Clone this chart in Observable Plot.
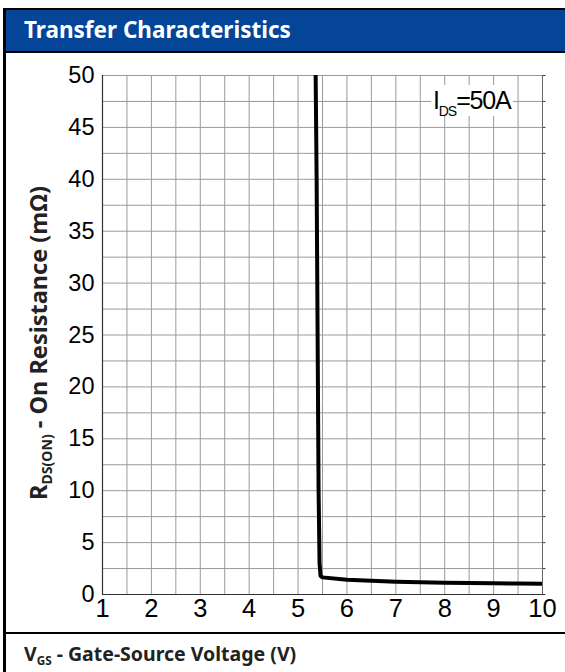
<!DOCTYPE html>
<html>
<head>
<meta charset="utf-8">
<script src="https://cdn.jsdelivr.net/npm/d3@7"></script>
<script src="https://cdn.jsdelivr.net/npm/@observablehq/plot@0.6"></script>
<style>
  html, body { margin: 0; padding: 0; background: #fff; }
  #wrap { position: relative; width: 565px; height: 672px; overflow: hidden; font-family: "Noto Sans", "Open Sans", sans-serif; }
  #lborder { position: absolute; left: 3px; top: 8px; width: 3px; height: 664px; background: #000; }
  #title { position: absolute; left: 3px; top: 8px; width: 562px; height: 41px; background: #044598;
           border-top: 2px solid #000; border-bottom: 2px solid #000; color: #fff; font-weight: 700; font-size: 22.5px;
           line-height: 40px; box-sizing: content-box; }
  #title span { position: absolute; left: 21px; top: 0; white-space: nowrap; }
  #plot { position: absolute; left: 0; top: 53px; }
  #sep { position: absolute; left: 3px; top: 632px; width: 562px; height: 2px; background: #000; }
  #xlabel { position: absolute; left: 24px; top: 640px; font-weight: 700; font-size: 19.5px; color: #222; white-space: nowrap; }
  #ylabel { position: absolute; left: 38px; top: 343px; transform: translate(-50%, -50%) rotate(-90deg);
            font-weight: 700; font-size: 23.5px; color: #222; white-space: nowrap; }
  sub { font-size: 0.6em; vertical-align: -0.35em; line-height: 0; }
  #note { position: absolute; left: 431px; top: 85px; background: #fff; font-family: "Liberation Sans", Arial, sans-serif;
          font-size: 25px; color: #000; padding: 0 2px; letter-spacing: -1.2px; line-height: 31px; }
  #note sub { font-size: 14px; vertical-align: -0.5em; letter-spacing: -1px; }
</style>
</head>
<body>
<div id="wrap">
  <div id="title"><span>Transfer Characteristics</span></div>
  <div id="plot"></div>
  <div id="lborder"></div>
  <div id="sep"></div>
  <div id="xlabel">V<sub>GS</sub> - Gate-Source Voltage (V)</div>
  <div id="ylabel">R<sub>DS(ON)</sub> - On Resistance (mΩ)</div>
  <div id="note">I<sub>DS</sub>=50A</div>
</div>
<script>
// Curve: R_DS(ON) (mΩ) vs V_GS (V), I_DS = 50 A
const vgs = [5.36, 5.38, 5.40, 5.42, 5.44, 5.46, 5.5, 6.0, 6.5, 7.0, 7.5, 8.0, 8.5, 9.0, 9.5, 10.0];
const rds = [50, 40, 25, 10, 3.0, 1.8, 1.65, 1.42, 1.32, 1.24, 1.18, 1.13, 1.10, 1.08, 1.06, 1.04];

const xTicks = [1, 2, 3, 4, 5, 6, 7, 8, 9, 10];
const yTicks = [0, 5, 10, 15, 20, 25, 30, 35, 40, 45, 50];
const xGrid = [1, 1.5, 2, 2.5, 3, 3.5, 4, 4.5, 5, 5.5, 6, 6.5, 7, 7.5, 8, 8.5, 9, 9.5, 10];
const yGrid = [0, 2.5, 5, 7.5, 10, 12.5, 15, 17.5, 20, 22.5, 25, 27.5, 30, 32.5, 35, 37.5, 40, 42.5, 45, 47.5, 50];

const curve = vgs.map((v, i) => ({ vgs: v, rds: rds[i] }));

const chart = Plot.plot({
  width: 565,
  height: 580,
  marginLeft: 102,
  marginRight: 23,
  marginTop: 22,
  marginBottom: 39,
  style: { fontFamily: "'Liberation Sans', Arial, sans-serif", background: "transparent", color: "#000" },
  x: { type: "linear", domain: [1, 10] },
  y: { type: "linear", domain: [0, 50] },
  marks: [
    Plot.ruleX(xGrid, { x: d => d, stroke: "#9a9a9a", strokeWidth: 1 }),
    Plot.ruleY(yGrid, { y: d => d, stroke: "#9a9a9a", strokeWidth: 1 }),
    Plot.ruleY(yGrid, { y: d => d, x1: 10, x2: 10.07, stroke: "#333", strokeWidth: 1 }),
    Plot.ruleX([10], { stroke: "#666", strokeWidth: 1 }),
    Plot.ruleY([0], { stroke: "#333", strokeWidth: 1.2 }),
    Plot.ruleX([1], { stroke: "#333", strokeWidth: 1.2 }),
    Plot.axisX({ ticks: xTicks, tickSize: 0, tickPadding: 4, fontSize: 25.5, tickFormat: d => String(d), label: null }),
    Plot.axisY({ ticks: yTicks, tickSize: 0, tickPadding: 8, fontSize: 23.5, tickFormat: d => String(d), label: null }),
    Plot.line(curve, { x: "vgs", y: "rds", stroke: "#000", strokeWidth: 4, strokeLinejoin: "round", clip: true })
  ]
});
document.getElementById("plot").appendChild(chart);
</script>
</body>
</html>
